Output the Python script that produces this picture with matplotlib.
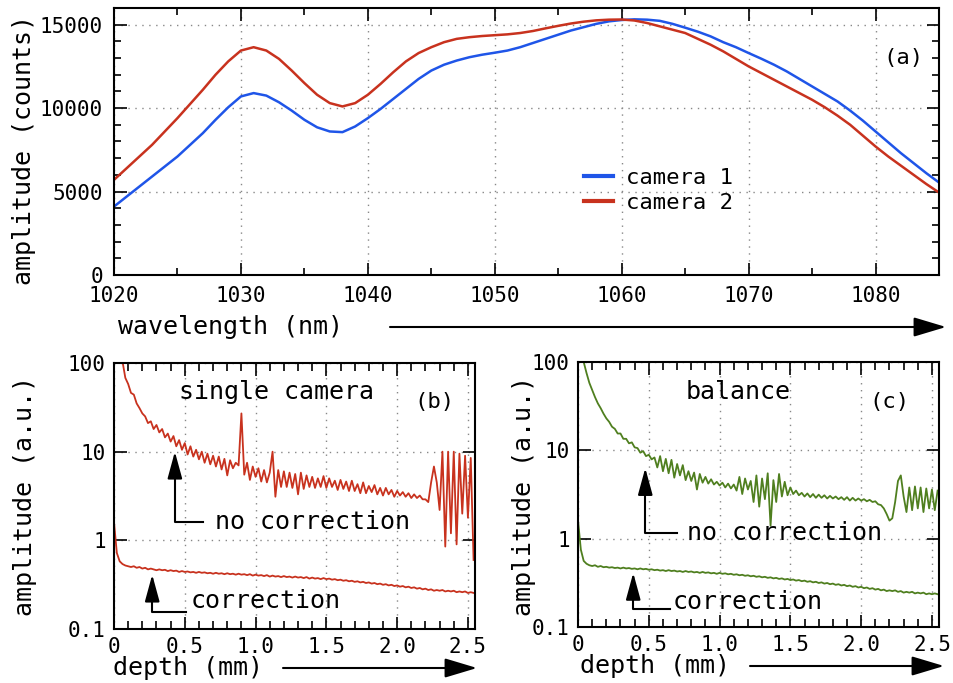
import matplotlib
matplotlib.use('Agg')
import matplotlib.pyplot as plt
import numpy as np
from matplotlib.patches import FancyArrowPatch
from matplotlib.ticker import MultipleLocator, FixedLocator, FixedFormatter, NullLocator

plt.rcParams['font.family'] = 'DejaVu Sans Mono'

# (a) spectra of the two cameras, 1 nm steps
wavelength = np.arange(1020, 1086)
camera1 = [4100, 4700, 5300, 5900, 6500, 7100, 7800, 8500, 9300, 10050,
           10700, 10900, 10750, 10350, 9850, 9300, 8850, 8600, 8560, 8900,
           9400, 9950, 10550, 11150, 11750, 12250, 12600, 12850, 13050, 13200,
           13320, 13450, 13650, 13900, 14150, 14400, 14650, 14850, 15050, 15200,
           15280, 15320, 15300, 15230, 15050, 14820, 14580, 14300, 13950, 13650,
           13300, 12960, 12600, 12200, 11750, 11300, 10850, 10400, 9850, 9250,
           8600, 7950, 7300, 6700, 6100, 5540]
camera2 = [5700, 6400, 7100, 7800, 8600, 9400, 10250, 11100, 12000, 12800,
           13450, 13650, 13450, 12950, 12250, 11500, 10800, 10300, 10100, 10300,
           10800, 11450, 12150, 12800, 13300, 13650, 13950, 14150, 14250, 14320,
           14370, 14420, 14500, 14620, 14780, 14930, 15070, 15180, 15260, 15300,
           15310, 15250, 15100, 14900, 14700, 14500, 14150, 13800, 13400, 12950,
           12500, 12100, 11700, 11300, 10900, 10500, 10050, 9550, 9000, 8350,
           7700, 7100, 6550, 6000, 5450, 4940]

# (b), (c) depth profiles, 0.02 mm steps
depth = np.round(np.arange(128) * 0.02, 2)
single_nocorr = [400, 250, 160, 105, 68, 58, 46, 44, 35, 31,
                 27, 25, 21, 22, 18, 20, 16.5, 18, 14.5, 16,
                 13, 15, 11.5, 13.5, 10.5, 12.5, 9.3, 11.5, 8.8, 10.5,
                 8.2, 10, 7.5, 9.5, 7.2, 9, 6.8, 8.8, 6.3, 8.3,
                 5.4, 8, 6.5, 7.5, 7, 27, 5.5, 7.5, 4.8, 6.8,
                 5.2, 6.5, 4.6, 6.2, 4.5, 5.8, 10, 3.1, 6.2, 4.0,
                 6.0, 4.0, 5.8, 3.9, 5.6, 3.3, 5.8, 3.8, 5.4, 4.0,
                 5.2, 3.9, 5.0, 4.0, 5.3, 3.9, 5.0, 4.0, 4.7, 3.7,
                 4.8, 3.8, 4.6, 3.6, 4.7, 3.6, 4.3, 3.4, 4.5, 3.4,
                 4.1, 3.5, 4.2, 3.3, 3.9, 3.2, 3.9, 3.3, 3.7, 3.1,
                 3.6, 3.2, 3.5, 3.1, 3.4, 3.0, 3.3, 3.0, 3.2, 2.9,
                 2.9, 2.7, 4.5, 6.8, 4.5, 2.2, 10, 0.85, 10, 1.2,
                 10, 0.9, 9.5, 2.0, 9, 1.8, 8.5, 0.6]
single_corr = [1.6, 0.72, 0.58, 0.54, 0.52, 0.51, 0.50, 0.51, 0.49, 0.50,
               0.48, 0.49, 0.47, 0.48, 0.47, 0.46, 0.47, 0.46, 0.465, 0.45,
               0.46, 0.45, 0.455, 0.44, 0.45, 0.44, 0.445, 0.435, 0.44, 0.43,
               0.44, 0.43, 0.435, 0.425, 0.43, 0.42, 0.43, 0.42, 0.425, 0.415,
               0.425, 0.415, 0.42, 0.41, 0.42, 0.41, 0.415, 0.405, 0.415, 0.40,
               0.41, 0.40, 0.405, 0.395, 0.405, 0.39, 0.40, 0.39, 0.395, 0.385,
               0.395, 0.385, 0.39, 0.38, 0.39, 0.38, 0.385, 0.375, 0.385, 0.37,
               0.38, 0.37, 0.375, 0.365, 0.375, 0.365, 0.37, 0.36, 0.365, 0.355,
               0.36, 0.35, 0.355, 0.345, 0.35, 0.34, 0.345, 0.335, 0.34, 0.33,
               0.335, 0.325, 0.33, 0.32, 0.325, 0.315, 0.32, 0.31, 0.315, 0.305,
               0.31, 0.30, 0.305, 0.295, 0.30, 0.29, 0.295, 0.285, 0.29, 0.28,
               0.285, 0.275, 0.28, 0.27, 0.275, 0.27, 0.275, 0.265, 0.27, 0.265,
               0.27, 0.26, 0.265, 0.26, 0.265, 0.255, 0.26, 0.255]
balance_nocorr = [400, 180, 100, 75, 58, 48, 40, 34, 30, 26,
                  23, 21, 18.5, 17.5, 15.5, 15.5, 13.5, 13.5, 12, 12.3,
                  10.8, 10.6, 9.4, 9.8, 8.6, 8.9, 7.9, 8.3, 6.4, 8.6,
                  5.8, 8.0, 5.5, 7.8, 4.9, 7.0, 5.2, 6.8, 4.6, 5.8,
                  4.5, 5.6, 3.6, 5.4, 4.3, 5.0, 4.2, 4.7, 4.1, 4.4,
                  4.0, 4.3, 3.8, 4.2, 3.7, 4.1, 3.5, 5.0, 3.2, 4.8,
                  3.6, 4.5, 2.6, 5.2, 2.3, 4.8, 2.8, 5.5, 1.4, 4.6,
                  2.6, 5.4, 3.0, 4.4, 3.1, 3.8, 3.2, 3.5, 3.1, 3.3,
                  3.0, 3.25, 2.95, 3.2, 2.9, 3.15, 2.9, 3.1, 2.85, 3.05,
                  2.85, 3.0, 2.8, 2.95, 2.75, 2.95, 2.7, 2.9, 2.7, 2.85,
                  2.7, 2.8, 2.65, 2.75, 2.6, 2.65, 2.45, 2.4, 2.2, 1.9,
                  1.6, 1.7, 2.6, 4.5, 5.2, 3.0, 2.0, 3.8, 2.1, 3.9,
                  2.2, 3.8, 2.0, 3.7, 2.2, 3.6, 2.1, 3.5]
balance_corr = [1.6, 0.75, 0.56, 0.52, 0.50, 0.49, 0.50, 0.48, 0.49, 0.475,
                0.48, 0.47, 0.475, 0.465, 0.47, 0.46, 0.47, 0.46, 0.465, 0.455,
                0.46, 0.45, 0.46, 0.45, 0.455, 0.445, 0.45, 0.44, 0.445, 0.435,
                0.44, 0.43, 0.44, 0.43, 0.435, 0.425, 0.43, 0.42, 0.43, 0.42,
                0.425, 0.415, 0.42, 0.41, 0.42, 0.41, 0.415, 0.405, 0.41, 0.40,
                0.41, 0.40, 0.405, 0.395, 0.40, 0.39, 0.395, 0.385, 0.39, 0.38,
                0.385, 0.375, 0.38, 0.37, 0.375, 0.365, 0.37, 0.36, 0.365, 0.355,
                0.36, 0.35, 0.355, 0.345, 0.35, 0.34, 0.345, 0.335, 0.34, 0.33,
                0.335, 0.325, 0.33, 0.32, 0.325, 0.315, 0.32, 0.31, 0.315, 0.305,
                0.31, 0.30, 0.305, 0.295, 0.30, 0.29, 0.295, 0.285, 0.29, 0.28,
                0.285, 0.275, 0.28, 0.27, 0.275, 0.265, 0.27, 0.26, 0.265, 0.255,
                0.26, 0.255, 0.26, 0.25, 0.255, 0.245, 0.25, 0.245, 0.25, 0.24,
                0.245, 0.24, 0.245, 0.235, 0.24, 0.235, 0.24, 0.235]

W, H = 954, 683


def fig_xy(x, y):
    # figure pixels (from top-left) -> figure fraction
    return x / W, 1 - y / H


def axis_arrow(fig, x0, x1, y):
    fig.add_artist(FancyArrowPatch(
        fig_xy(x0, y), fig_xy(x1, y), transform=fig.transFigure,
        arrowstyle='-|>,head_length=1.0,head_width=0.3', mutation_scale=20,
        color='black', lw=1.5, shrinkA=0, shrinkB=0))


fig = plt.figure(figsize=(W / 100, H / 100), dpi=100)

tick_kw = dict(direction='in', top=True, right=True, width=1.2, labelsize=15)
grid_kw = dict(linestyle=(0, (1, 4)), color='#888888', linewidth=1.0)

# ---- (a) ----
ax = fig.add_axes([0.1195, 0.5974, 0.8648, 0.3909])
ax.plot(wavelength, camera1, color='#1f55e8', lw=1.8, label='camera 1')
ax.plot(wavelength, camera2, color='#c8321e', lw=1.8, label='camera 2')
ax.set_xlim(1020, 1085)
ax.set_ylim(0, 16000)
ax.xaxis.set_major_locator(MultipleLocator(10))
ax.xaxis.set_minor_locator(MultipleLocator(5))
ax.yaxis.set_major_locator(MultipleLocator(5000))
ax.yaxis.set_minor_locator(MultipleLocator(1000))
ax.tick_params(which='major', length=9, pad=8, **tick_kw)
ax.tick_params(which='minor', length=5, **tick_kw)
ax.grid(True, which='major', **grid_kw)
for s in ax.spines.values():
    s.set_linewidth(1.5)
leg = ax.legend(loc='upper left', bbox_to_anchor=(0.545, 0.475), frameon=False,
                fontsize=16, handlelength=1.3, handletextpad=0.6, labelspacing=0.2)
for line in leg.get_lines():
    line.set_linewidth(3)
ax.text(1082.2, 13000, '(a)', fontsize=16, ha='center', va='center')

fig.text(*fig_xy(118, 327), 'wavelength (nm)', fontsize=18, ha='left', va='center')
axis_arrow(fig, 390, 946, 327)
fig.text(*fig_xy(24, 150), 'amplitude (counts)', fontsize=18, rotation=90,
         ha='center', va='center')

# ---- (b), (c) ----
panels = [
    dict(rect=[0.1195, 0.0791, 0.3784, 0.3894], color='#c8321e',
         nocorr=single_nocorr, corr=single_corr, title='single camera',
         title_xy=(1.15, 47), tag='(b)', tag_xy=(2.26, 36),
         arr1=(0.43, 10, 1.6, 0.63), txt1=(0.71, 1.6),
         arr2=(0.27, 0.41, 0.155, 0.51), txt2=(0.54, 0.205),
         xl=(113, 668), arrow=(283, 477, 668), yl=(25, 496)),
    dict(rect=[0.6059, 0.0820, 0.3784, 0.3880], color='#4f7f1f',
         nocorr=balance_nocorr, corr=balance_corr, title='balance',
         title_xy=(1.13, 46), tag='(c)', tag_xy=(2.2, 35),
         arr1=(0.475, 6.3, 1.15, 0.70), txt1=(0.77, 1.15),
         arr2=(0.39, 0.41, 0.16, 0.65), txt2=(0.67, 0.19),
         xl=(580, 666), arrow=(750, 944, 666), yl=(524, 496)),
]

for p in panels:
    ax = fig.add_axes(p['rect'])
    ax.plot(depth, p['nocorr'], color=p['color'], lw=1.3)
    ax.plot(depth, p['corr'], color=p['color'], lw=1.3)
    ax.set_yscale('log')
    ax.set_xlim(0, 2.55)
    ax.set_ylim(0.1, 100)
    ax.xaxis.set_major_locator(FixedLocator([0, 0.5, 1.0, 1.5, 2.0, 2.5]))
    ax.xaxis.set_major_formatter(FixedFormatter(['0', '0.5', '1.0', '1.5', '2.0', '2.5']))
    ax.xaxis.set_minor_locator(MultipleLocator(0.1))
    ax.yaxis.set_major_locator(FixedLocator([0.1, 1, 10, 100]))
    ax.yaxis.set_major_formatter(FixedFormatter(['0.1', '1', '10', '100']))
    ax.yaxis.set_minor_locator(NullLocator())
    ax.tick_params(which='major', length=9, pad=6, **tick_kw)
    ax.tick_params(which='minor', length=6, **tick_kw)
    ax.grid(True, which='major', **grid_kw)
    for s in ax.spines.values():
        s.set_linewidth(1.5)

    ax.text(*p['title_xy'], p['title'], fontsize=18, ha='center', va='center')
    ax.text(*p['tag_xy'], p['tag'], fontsize=16, ha='center', va='center')

    for (xa, ytip, ycorner, xend), (xt, yt), label in [
            (p['arr1'], p['txt1'], 'no correction'),
            (p['arr2'], p['txt2'], 'correction')]:
        ax.plot([xa, xa, xend], [ytip * 0.8, ycorner, ycorner], color='black', lw=1.5)
        ax.annotate('', xy=(xa, ytip), xytext=(xa, ytip * 0.55),
                    arrowprops=dict(arrowstyle='-|>,head_length=1.1,head_width=0.3',
                                    mutation_scale=15, color='black', lw=1.5,
                                    shrinkA=0, shrinkB=0))
        ax.text(xt, yt, label, fontsize=18, ha='left', va='center')

    fig.text(*fig_xy(*p['xl']), 'depth (mm)', fontsize=18, ha='left', va='center')
    x0, x1, yy = p['arrow']
    axis_arrow(fig, x0, x1, yy)
    fig.text(*fig_xy(*p['yl']), 'amplitude (a.u.)', fontsize=18, rotation=90,
             ha='center', va='center')

fig.savefig('out.png', dpi=100)
